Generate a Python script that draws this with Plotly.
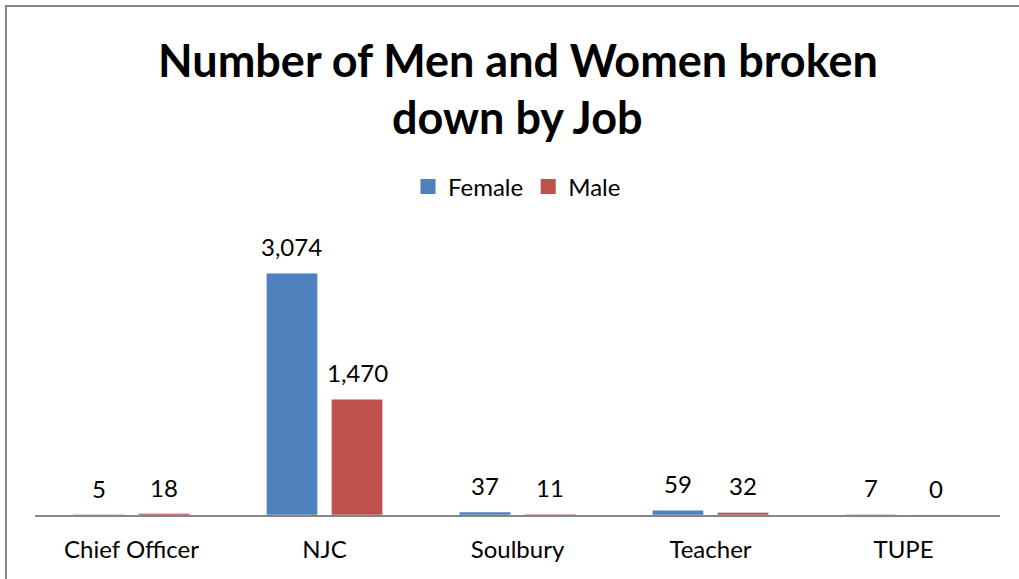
import plotly.graph_objects as go

# Data
jobs = ["Chief Officer", "NJC", "Soulbury", "Teacher", "TUPE"]
female = [5, 3074, 37, 59, 7]
male = [18, 1470, 11, 32, 0]

title_line1 = "Number of Men and Women broken"
title_line2 = "down by Job"

FONT = "Lato, Calibri, 'Open Sans', sans-serif"
BLUE = "#4F81BD"
RED = "#C0504D"

fig = go.Figure()
fig.add_trace(go.Bar(x=jobs, y=female, name="Female",
                     marker=dict(color=BLUE), showlegend=False))
fig.add_trace(go.Bar(x=jobs, y=male, name="Male",
                     marker=dict(color=RED), showlegend=False))

# legend entries with square keys
for name, col in [("Female", BLUE), ("Male", RED)]:
    fig.add_trace(go.Scatter(x=[None], y=[None], mode="markers", name=name,
                             marker=dict(symbol="square", size=15, color=col)))

BARGAP = 0.326
half_slot = (1 - BARGAP) / 4  # centre offset of each bar inside its group

# data labels above each bar
annotations = []
for i, (f, m) in enumerate(zip(female, male)):
    for off, v in [(-half_slot, f), (half_slot, m)]:
        annotations.append(dict(
            x=i + off, y=v, xref="x", yref="y", text=f"{v:,}",
            showarrow=False, yanchor="bottom", yshift=10,
            font=dict(size=24, family=FONT, color="black")))


# pixel helpers for the plot area (x 35..1000, y 220..515)
def xp(px):
    return (px - 35) / 965


def yp(py):
    return (515 - py) / 295


annotations += [
    dict(text="<b>" + title_line1 + "</b>", xref="paper", yref="paper",
         x=xp(518), y=yp(60), xanchor="center", yanchor="middle",
         showarrow=False, font=dict(size=45, family=FONT)),
    dict(text="<b>" + title_line2 + "</b>", xref="paper", yref="paper",
         x=xp(517), y=yp(117), xanchor="center", yanchor="middle",
         showarrow=False, font=dict(size=45, family=FONT)),
]

fig.update_layout(
    width=1019, height=579,
    margin=dict(l=35, r=19, t=220, b=64, autoexpand=False),
    paper_bgcolor="white", plot_bgcolor="white",
    font=dict(family=FONT, size=24, color="black"),
    barmode="group", bargap=BARGAP, bargroupgap=0.215,
    showlegend=True,
    legend=dict(orientation="h", x=xp(517), xanchor="center",
                y=yp(187), yanchor="middle",
                font=dict(size=24, family=FONT),
                itemwidth=30, traceorder="normal"),
    xaxis=dict(showline=True, linecolor="#868686", linewidth=2,
               ticks="", tickfont=dict(size=24, family=FONT),
               ticklabelstandoff=12, fixedrange=True),
    yaxis=dict(range=[0, 3750], visible=False, showgrid=False, fixedrange=True),
    annotations=annotations,
    shapes=[
        dict(type="line", xref="paper", yref="paper",
             x0=xp(6), x1=xp(6), y0=yp(5), y1=yp(620),
             line=dict(color="#878787", width=2)),
        dict(type="line", xref="paper", yref="paper",
             x0=xp(5), x1=xp(1040), y0=yp(6), y1=yp(6),
             line=dict(color="#878787", width=2)),
    ],
)

fig.write_html("out.html", config={"displayModeBar": False},
               post_script="document.body.style.margin='0';")
